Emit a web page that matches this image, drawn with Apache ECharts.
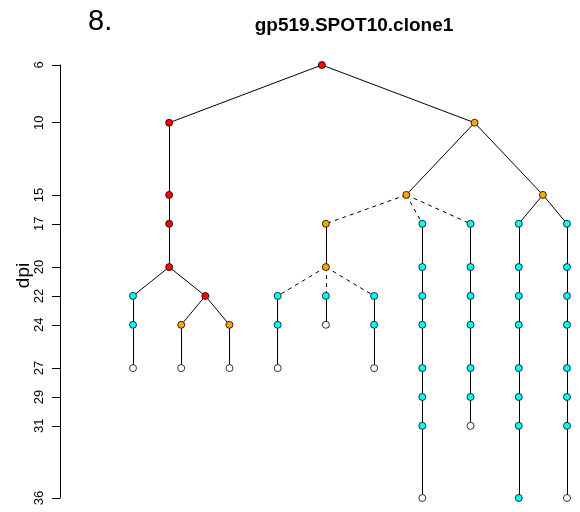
<!DOCTYPE html>
<html><head><meta charset="utf-8">
<script src="https://cdn.jsdelivr.net/npm/echarts@6/dist/echarts.min.js"></script>
<style>html,body{margin:0;padding:0;background:#fff}#c{width:580px;height:512px}</style>
</head><body><div id="c"></div>
<script>
// Tree nodes: leaf-order x position, dpi (y), colour class, parent index, dashed edge to parent
const nodeX = [
  4.917,                 // 0 root
  1.75, 1.75, 1.75, 1.75, // 1-4 left chain (10,15,17,20)
  1, 1, 1,               // 5-7
  2.5,                   // 8
  2, 2,                  // 9-10
  3, 3,                  // 11-12
  8.083,                 // 13
  6.667,                 // 14
  5, 5,                  // 15-16
  4, 4, 4,               // 17-19
  5, 5,                  // 20-21
  6, 6, 6,               // 22-24
  7, 7, 7, 7, 7, 7, 7, 7,// 25-32
  8, 8, 8, 8, 8, 8, 8,   // 33-39
  9.5,                   // 40
  9, 9, 9, 9, 9, 9, 9, 9,        // 41-48
  10, 10, 10, 10, 10, 10, 10, 10 // 49-56
];
const nodeDpi = [
  6,
  10, 15, 17, 20,
  22, 24, 27,
  22,
  24, 27,
  24, 27,
  10,
  15,
  17, 20,
  22, 24, 27,
  22, 24,
  22, 24, 27,
  17, 20, 22, 24, 27, 29, 31, 36,
  17, 20, 22, 24, 27, 29, 31,
  15,
  17, 20, 22, 24, 27, 29, 31, 36,
  17, 20, 22, 24, 27, 29, 31, 36
];
const nodeColor = [
  'r',
  'r','r','r','r',
  'c','c','w',
  'r',
  'o','w',
  'o','w',
  'o',
  'o',
  'o','o',
  'c','c','w',
  'c','w',
  'c','c','w',
  'c','c','c','c','c','c','c','w',
  'c','c','c','c','c','c','w',
  'o',
  'c','c','c','c','c','c','c','c',
  'c','c','c','c','c','c','c','w'
];
const nodeParent = [
  -1,
  0, 1, 2, 3,
  4, 5, 6,
  4,
  8, 9,
  8, 11,
  0,
  13,
  14, 15,
  16, 17, 18,
  16, 20,
  16, 22, 23,
  14, 25, 26, 27, 28, 29, 30, 31,
  14, 33, 34, 35, 36, 37, 38,
  13,
  40, 41, 42, 43, 44, 45, 46, 47,
  40, 49, 50, 51, 52, 53, 54, 55
];
const dashedChildren = [15, 17, 20, 22, 25, 33];
const yTicks = [6, 10, 15, 17, 20, 22, 24, 27, 29, 31, 36];

const palette = { r: '#FF0000', o: '#FFA500', c: '#00FFFF', w: '#FFFFFF' };

const solidEdges = [], dashedEdges = [];
nodeParent.forEach((p, i) => {
  if (p < 0) return;
  const e = { coords: [[nodeX[p], nodeDpi[p]], [nodeX[i], nodeDpi[i]]] };
  (dashedChildren.includes(i) ? dashedEdges : solidEdges).push(e);
});
const points = nodeX.map((x, i) => ({
  value: [x, nodeDpi[i]],
  itemStyle: { color: palette[nodeColor[i]] }
}));

const FONT = 'Liberation Sans, Arial, sans-serif';
const chart = echarts.init(document.getElementById('c'), null, { renderer: 'canvas' });
chart.setOption({
  backgroundColor: '#fff',
  animation: false,
  title: [
    { text: 'gp519.SPOT10.clone1', left: 349, top: 11, textAlign: 'center',
      textStyle: { fontFamily: FONT, fontWeight: 'bold', fontSize: 19, color: '#000' } },
    { text: '8.', left: 83, top: 2,
      textStyle: { fontFamily: FONT, fontWeight: 'normal', fontSize: 29, color: '#000' } }
  ],
  grid: { left: 60, top: 65, width: 512, height: 433 },
  xAxis: { type: 'value', min: -0.514, max: 10.104, show: false },
  yAxis: {
    type: 'value', inverse: true, min: 6, max: 36,
    name: 'dpi', nameLocation: 'middle', nameGap: 27, nameRotate: 90, nameMoveOverlap: false,
    nameTextStyle: { fontFamily: FONT, fontSize: 19, color: '#000', padding: [0, 0, 0, 12] },
    axisLine: { show: true, onZero: false, lineStyle: { color: '#000', width: 1 } },
    axisTick: { show: true, length: 8, lineStyle: { color: '#000' }, customValues: yTicks },
    axisLabel: { rotate: 90, margin: 14, fontFamily: FONT, fontSize: 13, color: '#000', customValues: yTicks },
    splitLine: { show: false }
  },
  series: [
    { type: 'lines', coordinateSystem: 'cartesian2d', data: solidEdges, z: 1,
      lineStyle: { color: '#000', width: 1, opacity: 1 }, silent: true },
    { type: 'lines', coordinateSystem: 'cartesian2d', data: dashedEdges, z: 1,
      lineStyle: { color: '#000', width: 1, type: [4, 4], opacity: 1 }, silent: true },
    { type: 'scatter', data: points, symbol: 'circle', symbolSize: 7, z: 3,
      itemStyle: { borderColor: '#000', borderWidth: 0.8, opacity: 1 } }
  ]
});
</script></body></html>
